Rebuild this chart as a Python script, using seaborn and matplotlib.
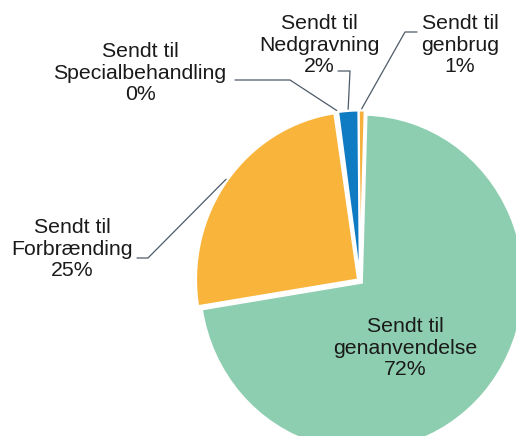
import numpy as np
import matplotlib
matplotlib.use('Agg')
import matplotlib.pyplot as plt
import seaborn as sns

# data (slices in clockwise order starting at the top)
names = ['Sendt til\ngenbrug', 'Sendt til\ngenanvendelse', 'Sendt til\nForbrænding',
         'Sendt til\nSpecialbehandling', 'Sendt til\nNedgravning']
shares = [0.6, 72.0, 25.2, 0.2, 2.0]
colors = ['#F6B13C', '#8ECEB0', '#F9B43B', '#8C8C8C', '#0F7BC3']

sns.set_theme(style='white')
plt.rcParams['font.family'] = ['Liberation Sans', 'DejaVu Sans']

fig = plt.figure(figsize=(5.16, 4.36), dpi=100)
ax = fig.add_axes([0, 0, 1, 1])

# pie center and radii in pixels of the output image (slightly taller than wide)
cx, cy, rx, ry = 360, 281, 162, 168

def px(x, y):
    return (x - cx) / rx, (cy - y) / ry

wedges, _ = ax.pie(shares, colors=colors, startangle=90.5, counterclock=False,
                   explode=[0.015] * len(shares),
                   wedgeprops=dict(edgecolor='white', linewidth=1.5))

ax.set_aspect('auto')
ax.set_xlim(-cx / rx, (516 - cx) / rx)
ax.set_ylim(-(436 - cy) / ry, cy / ry)
ax.axis('off')

def edge_point(w, r=1.01):
    t = np.deg2rad((w.theta1 + w.theta2) / 2)
    return w.center[0] + r * np.cos(t), w.center[1] + r * np.sin(t)

# label text positions and leader elbows (pixels)
label_pos = [(460, 45), (405, 348), (72, 249), (140, 73), (319, 45)]
leaders = {0: [(417, 32), (405, 32)],
           2: [(137, 258), (148, 258)],
           3: [(235, 80), (290, 80)],
           4: [(338, 71), (350, 71)]}

for i, (w, name, v) in enumerate(zip(wedges, names, shares)):
    x, y = px(*label_pos[i])
    ax.text(x, y, f'{name}\n{v:.0f}%', ha='center', va='center', fontsize=15.3,
            color='#1a1a1a', linespacing=1.15)
    if i in leaders:
        pts = [px(*p) for p in leaders[i]] + [edge_point(w)]
        ax.plot([p[0] for p in pts], [p[1] for p in pts], color='#4d5b69', lw=0.9)

fig.savefig('out.png', dpi=100)
